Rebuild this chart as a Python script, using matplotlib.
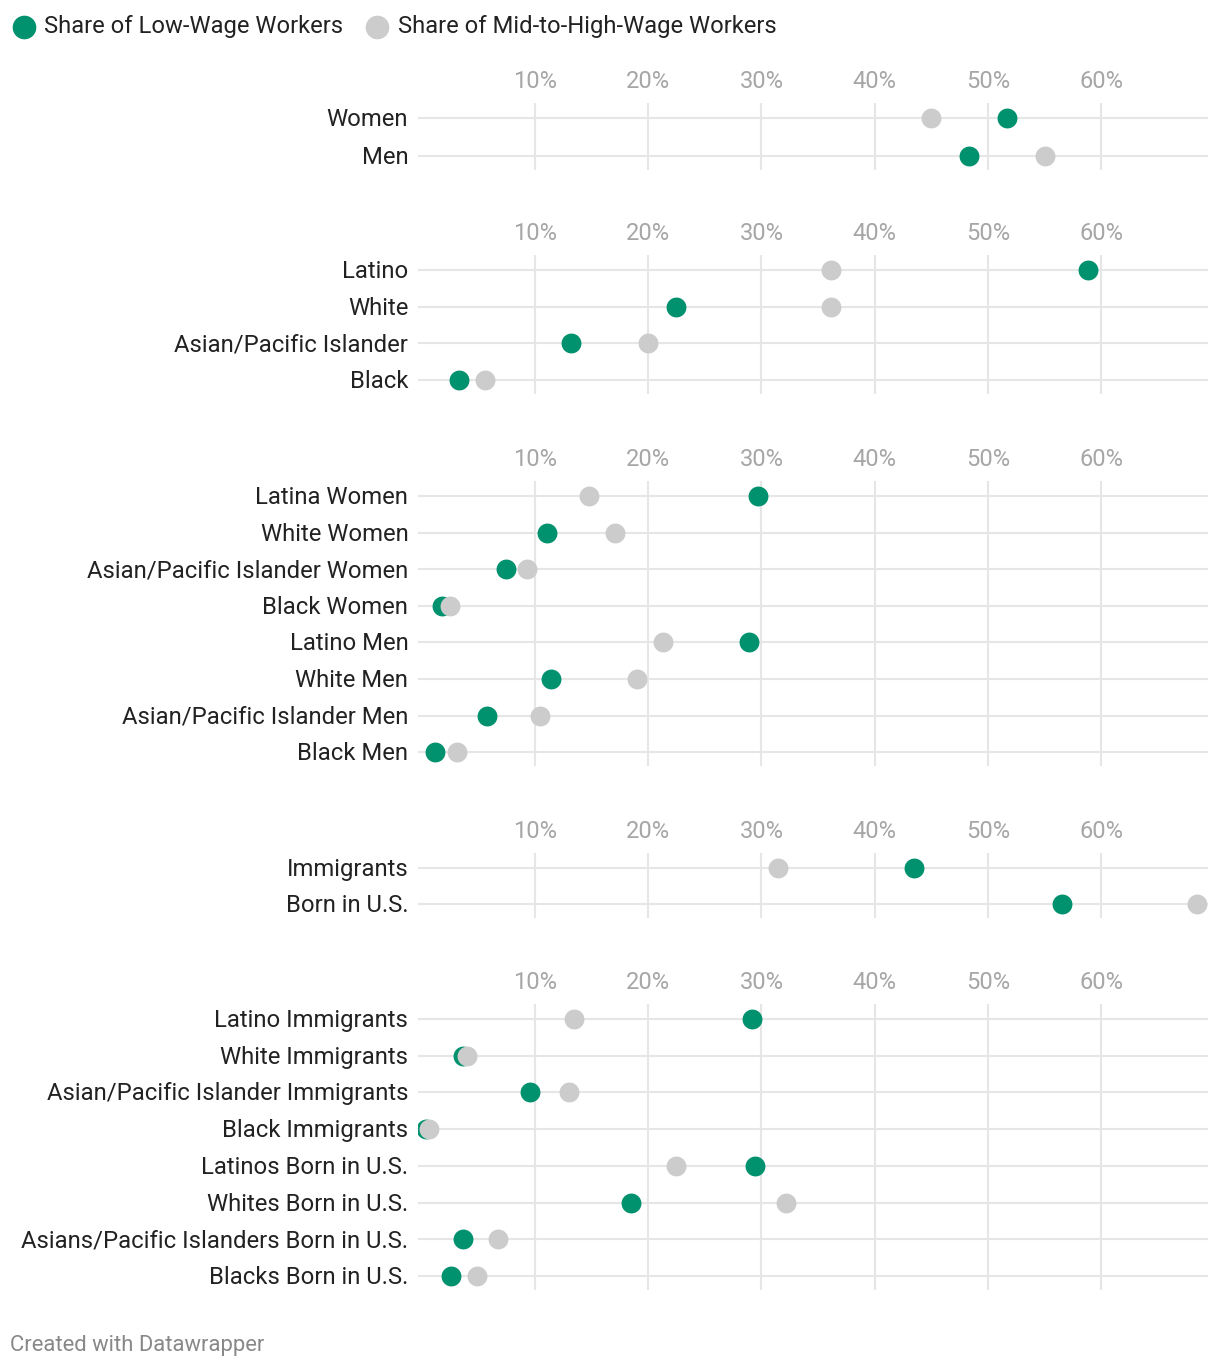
import matplotlib.pyplot as plt
import matplotlib.transforms as mtransforms

plt.rcParams['font.family'] = ['Roboto', 'DejaVu Sans']

GREEN = '#00916e'
GREY = '#cccccc'

# panel data: labels, low-wage share, mid-to-high-wage share (percent)
gender = ['Women', 'Men']
gender_low = [51.7, 48.3]
gender_high = [45.0, 55.0]

race = ['Latino', 'White', 'Asian/Pacific Islander', 'Black']
race_low = [58.8, 22.5, 13.2, 3.3]
race_high = [36.1, 36.1, 20.0, 5.6]

race_gender = ['Latina Women', 'White Women', 'Asian/Pacific Islander Women', 'Black Women',
               'Latino Men', 'White Men', 'Asian/Pacific Islander Men', 'Black Men']
race_gender_low = [29.7, 11.1, 7.5, 1.8, 28.9, 11.4, 5.8, 1.2]
race_gender_high = [14.8, 17.1, 9.3, 2.5, 21.3, 19.0, 10.5, 3.1]

nativity = ['Immigrants', 'Born in U.S.']
nativity_low = [43.5, 56.5]
nativity_high = [31.5, 68.4]

race_nativity = ['Latino Immigrants', 'White Immigrants', 'Asian/Pacific Islander Immigrants',
                 'Black Immigrants', 'Latinos Born in U.S.', 'Whites Born in U.S.',
                 'Asians/Pacific Islanders Born in U.S.', 'Blacks Born in U.S.']
race_nativity_low = [29.2, 3.7, 9.6, 0.4, 29.4, 18.5, 3.7, 2.6]
race_nativity_high = [13.5, 4.0, 13.0, 0.7, 22.5, 32.2, 6.8, 4.9]

ticks = [10, 20, 30, 40, 50, 60]

W, H = 1220, 1368
fig = plt.figure(figsize=(W / 100, H / 100), dpi=100)

panels = [
    (gender, gender_low, gender_high, 118, 38.0),
    (race, race_low, race_high, 270, 36.7),
    (race_gender, race_gender_low, race_gender_high, 496, 36.6),
    (nativity, nativity_low, nativity_high, 868, 36.0),
    (race_nativity, race_nativity_low, race_nativity_high, 1019, 36.7),
]

# nudge row labels down a touch
nudge = mtransforms.ScaledTranslation(0, -1.5 / 100, fig.dpi_scale_trans)

left, right = 418, 1208
for labels, low, high, first, step in panels:
    n = len(labels)
    top = first - 15
    bottom = first + (n - 1) * step + 14
    ax = fig.add_axes([left / W, 1 - bottom / H, (right - left) / W, (bottom - top) / H])
    ax.set_xlim(-0.3, 69.4)
    ax.set_ylim(n - 1 + 14 / step, -15 / step)
    ys = list(range(n))
    for y in ys:
        ax.axhline(y, color='#e6e6e6', lw=1.5, zorder=1)
    for t in ticks:
        ax.axvline(t, color='#e6e6e6', lw=1.5, zorder=1)
    ax.scatter(low, ys, s=205, color=GREEN, lw=0, zorder=3)
    ax.scatter(high, ys, s=205, color=GREY, lw=0, zorder=4)
    ax.set_xticks(ticks)
    ax.set_xticklabels([f'{t}%' for t in ticks])
    ax.xaxis.tick_top()
    ax.tick_params(axis='x', length=0, pad=7, labelsize=17, labelcolor='#a6a6a6')
    for lbl in ax.get_xticklabels():
        lbl.set_va('bottom')
    ax.set_yticks(ys)
    ax.set_yticklabels(labels)
    ax.tick_params(axis='y', length=0, pad=7, labelsize=17.2, labelcolor='#222222')
    for lbl in ax.get_yticklabels():
        lbl.set_va('center')
        lbl.set_transform(lbl.get_transform() + nudge)
    for s in ax.spines.values():
        s.set_visible(False)
    ax.set_facecolor('none')

# legend
lax = fig.add_axes([0, 0, 1, 1])
lax.set_xlim(0, W)
lax.set_ylim(H, 0)
lax.axis('off')
lax.scatter([24], [27], s=290, color=GREEN, lw=0)
lax.scatter([377], [27], s=290, color=GREY, lw=0)
lax.text(44, 27, 'Share of Low-Wage Workers', fontsize=17.1, color='#222222', va='center')
lax.text(398, 27, 'Share of Mid-to-High-Wage Workers', fontsize=17.1, color='#222222', va='center')
lax.text(10, 1345, 'Created with Datawrapper', fontsize=15.8, color='#888888', va='center')

fig.savefig('out.png', dpi=100)
